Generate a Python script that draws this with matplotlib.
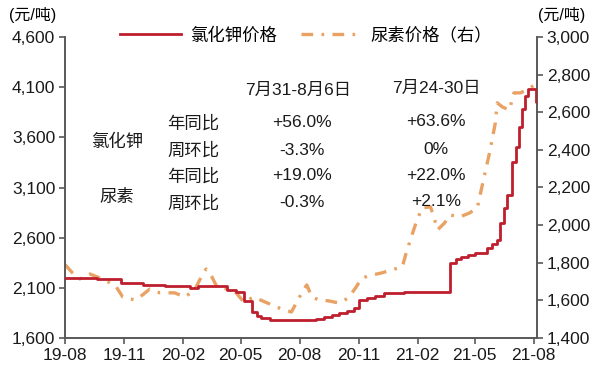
import pandas as pd
import matplotlib.pyplot as plt
import matplotlib.dates as mdates
from matplotlib.ticker import FuncFormatter

plt.rcParams['font.family'] = ['Liberation Sans', 'Noto Sans CJK SC', 'DejaVu Sans']

# 氯化钾价格 (左轴, 元/吨) - 阶梯变化
kcl_dates = ["2019-08-01", "2019-09-20", "2019-10-28", "2019-11-30", "2020-01-04",
             "2020-02-12", "2020-02-24", "2020-04-10", "2020-04-24", "2020-05-06",
             "2020-05-18", "2020-05-26", "2020-06-02", "2020-06-15", "2020-08-26",
             "2020-09-08", "2020-09-20", "2020-10-01", "2020-10-13", "2020-10-25",
             "2020-11-02", "2020-11-14", "2020-11-26", "2020-12-10", "2021-01-10",
             "2021-03-23", "2021-04-01", "2021-04-10", "2021-04-20", "2021-05-01",
             "2021-05-20", "2021-05-28", "2021-06-04", "2021-06-10", "2021-06-15",
             "2021-06-20", "2021-06-28", "2021-07-04", "2021-07-09", "2021-07-14",
             "2021-07-18", "2021-07-23", "2021-08-04", "2021-08-06"]
kcl_price = [2200, 2185, 2150, 2130, 2115,
             2100, 2115, 2080, 2060, 1970,
             1860, 1820, 1800, 1780, 1790,
             1810, 1830, 1850, 1870, 1900,
             1980, 2000, 2020, 2050, 2055,
             2350, 2390, 2410, 2430, 2450,
             2500, 2540, 2580, 2750, 2900,
             3030, 3350, 3500, 3700, 3880,
             4010, 4080, 3950, 3950]

# 尿素价格 (右轴, 元/吨)
urea_dates = ["2019-08-01", "2019-08-13", "2019-08-24", "2019-09-09", "2019-09-20",
              "2019-10-18", "2019-10-30", "2019-11-18", "2019-11-30", "2019-12-11",
              "2019-12-27", "2020-01-19", "2020-02-04", "2020-02-19", "2020-02-27",
              "2020-03-08", "2020-03-17", "2020-03-25", "2020-04-05", "2020-04-24",
              "2020-05-06", "2020-05-21", "2020-06-19", "2020-07-04", "2020-07-19",
              "2020-08-05", "2020-08-12", "2020-08-20", "2020-08-31", "2020-09-16",
              "2020-10-01", "2020-10-16", "2020-10-27", "2020-11-06", "2020-11-22",
              "2020-12-07", "2020-12-22", "2021-01-08", "2021-01-14", "2021-01-22",
              "2021-01-31", "2021-02-08", "2021-02-21", "2021-02-26", "2021-03-04",
              "2021-03-15", "2021-03-23", "2021-04-08", "2021-04-23", "2021-05-05",
              "2021-05-10", "2021-05-17", "2021-05-25", "2021-06-02", "2021-06-05",
              "2021-06-13", "2021-06-24", "2021-07-01", "2021-07-11", "2021-07-22",
              "2021-08-02"]
urea_price = [1790, 1745, 1714, 1740, 1725,
              1682, 1618, 1602, 1629, 1660,
              1640, 1640, 1618, 1655, 1708,
              1767, 1725, 1671, 1666, 1640,
              1590, 1618, 1575, 1554, 1538,
              1645, 1682, 1618, 1602, 1597,
              1586, 1613, 1666, 1719, 1735,
              1746, 1762, 1778, 1852, 1937,
              2028, 2092, 2097, 2044, 1975,
              2012, 2054, 2044, 2065, 2092,
              2171, 2278, 2400, 2543, 2650,
              2628, 2612, 2703, 2703, 2719,
              2745]

x_ticks = ["2019-08-01", "2019-11-01", "2020-02-01", "2020-05-01", "2020-08-01",
           "2020-11-01", "2021-02-01", "2021-05-01", "2021-08-01"]
left_ticks = [1600, 2100, 2600, 3100, 3600, 4100, 4600]
right_ticks = [1400, 1600, 1800, 2000, 2200, 2400, 2600, 2800, 3000]

# 表格文字
col_heads = ["7月31-8月6日", "7月24-30日"]
row_items = ["年同比", "周环比", "年同比", "周环比"]
row_groups = ["氯化钾", "尿素"]
week_now = ["+56.0%", "-3.3%", "+19.0%", "-0.3%"]
week_prev = ["+63.6%", "0%", "+22.0%", "+2.1%"]

red = "#BE1E2D"
orange = "#E9A263"
spine_c = "#595959"

fig = plt.figure(figsize=(6, 3.7), dpi=100)
ax = fig.add_axes([65/600, 1-338/370, 472/600, 301/370])
ax2 = ax.twinx()

l1, = ax.plot(pd.to_datetime(kcl_dates), kcl_price, color=red, lw=2,
              drawstyle="steps-post", zorder=3)
l2, = ax2.plot(pd.to_datetime(urea_dates), urea_price, color=orange, lw=2.4,
               linestyle=(0, (3.5, 2.5, 0.8, 2.5)), zorder=2)
ax.set_zorder(ax2.get_zorder() + 1)
ax.patch.set_visible(False)

ax.set_xlim(pd.Timestamp("2019-08-01"), pd.Timestamp("2021-08-06"))
ax.set_ylim(1600, 4600)
ax.set_yticks(left_ticks)
ax2.set_ylim(1400, 3000)
ax2.set_yticks(right_ticks)
fmt = FuncFormatter(lambda v, p: "{:,.0f}".format(v))
ax.yaxis.set_major_formatter(fmt)
ax2.yaxis.set_major_formatter(fmt)

ax.set_xticks(pd.to_datetime(x_ticks))
ax.xaxis.set_major_formatter(mdates.DateFormatter("%y-%m"))

for a in (ax, ax2):
    a.spines["top"].set_visible(False)
    for s in ("left", "right", "bottom"):
        a.spines[s].set_color(spine_c)
        a.spines[s].set_linewidth(1.2)
    a.tick_params(direction="out", length=4, width=1.2, color=spine_c,
                  labelsize=12.5, labelcolor="#1a1a1a", pad=3)

ax.legend([l1, l2], ["氯化钾价格", "尿素价格（右）"], ncol=2, frameon=False,
          loc="center", bbox_to_anchor=(306/600, 1-35/370),
          bbox_transform=fig.transFigure, fontsize=12.5, handlelength=3.5,
          columnspacing=1.4, handletextpad=0.5)

fig.text(33/600, 1-15/370, "(元/吨)", ha="center", va="center", fontsize=11.5)
fig.text(562/600, 1-15/370, "(元/吨)", ha="center", va="center", fontsize=11.5)

# 表格
tkw = dict(ha="center", va="center", fontsize=12.5, color="#1a1a1a")
fig.text(298/600, 1-90/370, col_heads[0], **tkw)
fig.text(436/600, 1-88/370, col_heads[1], **tkw)
row_y = [123, 150, 176, 203]
for i, y in enumerate(row_y):
    fig.text(193/600, 1-y/370, row_items[i], **tkw)
    fig.text(302/600, 1-y/370, week_now[i], **tkw)
    fig.text(436/600, 1-(y-1)/370, week_prev[i], **tkw)
fig.text(117/600, 1-142/370, row_groups[0], **tkw)
fig.text(117/600, 1-197/370, row_groups[1], **tkw)

fig.savefig("out.png", dpi=100)
